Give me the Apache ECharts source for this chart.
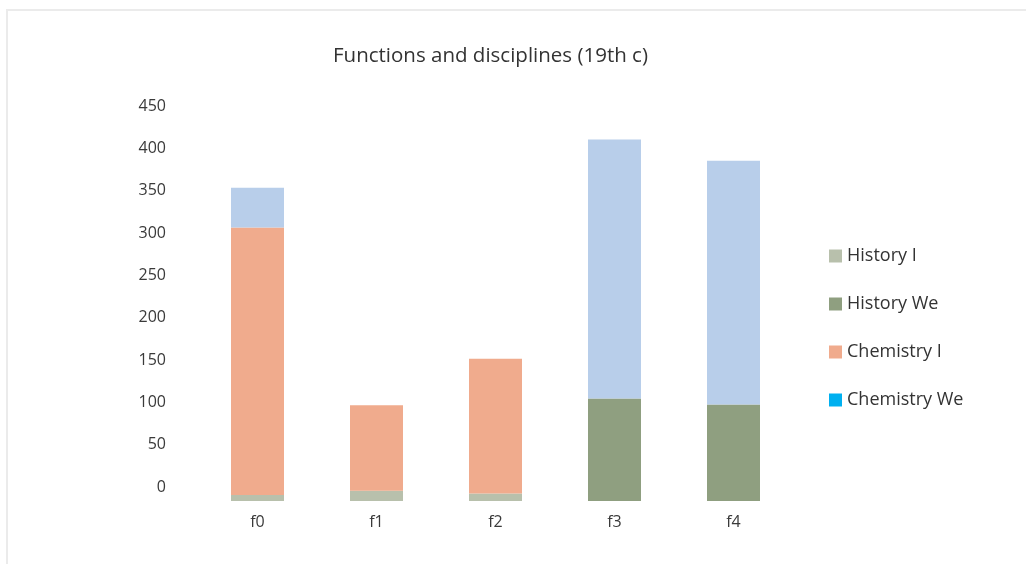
<!DOCTYPE html>
<html>
<head>
<meta charset="utf-8">
<script src="https://cdn.jsdelivr.net/npm/echarts@6/dist/echarts.min.js"></script>
<style>
html,body{margin:0;padding:0;background:#fff;overflow:hidden;}
#frame{position:absolute;left:6px;top:9px;width:1040px;height:600px;border:2px solid #ebebeb;box-sizing:border-box;}
#chart{position:absolute;left:0;top:0;width:1026px;height:564px;}
</style>
</head>
<body>
<div id="frame"></div>
<div id="chart"></div>
<script>
var categories = ['f0', 'f1', 'f2', 'f3', 'f4'];
var seriesNames = ['History I', 'History We', 'Chemistry I', 'Chemistry We'];
var historyI = [7, 12, 9, 0, 0];
var historyWe = [0, 0, 0, 121, 114];
var chemistryI = [316, 101, 159, 0, 0];
var chemistryWe = [47, 0, 0, 306, 288];
var yTicks = [0, 50, 100, 150, 200, 250, 300, 350, 400, 450];

var barColors = ['#b8c0ac', '#8f9f80', '#f0ab8d', '#b8ceea'];
var legendColors = ['#b8c0ac', '#8f9f80', '#f0ab8d', '#00b0f0'];
var values = [historyI, historyWe, chemistryI, chemistryWe];
var font = 'Open Sans';

var chart = echarts.init(document.getElementById('chart'));
chart.setOption({
  animation: false,
  title: {
    text: 'Functions and disciplines (19th c)',
    left: 328, top: 41,
    textStyle: {fontFamily: font, fontSize: 20.5, fontWeight: 'normal', color: '#333'}
  },
  legend: {
    orient: 'vertical',
    left: 824, top: 242,
    itemWidth: 13, itemHeight: 13,
    itemGap: 30,
    icon: 'rect',
    textStyle: {fontFamily: font, fontSize: 18, color: '#333'},
    data: seriesNames.map(function (n, i) { return {name: n, itemStyle: {color: legendColors[i]}}; })
  },
  grid: {left: 198, right: 233, top: 120, bottom: 63, containLabel: false},
  xAxis: {
    type: 'category',
    data: categories,
    axisLine: {show: false},
    axisTick: {show: false},
    axisLabel: {fontFamily: font, fontSize: 16, color: '#3a3a3a', margin: 13}
  },
  yAxis: {
    type: 'value',
    min: 0, max: 450, interval: 50,
    splitLine: {show: false},
    axisLine: {show: false},
    axisTick: {show: false},
    axisLabel: {
      fontFamily: font, fontSize: 16, color: '#3a3a3a', margin: 32,
      verticalAlign: 'bottom', padding: [0, 0, 6, 0],
      formatter: function (v) { return yTicks.indexOf(v) >= 0 ? String(v) : ''; }
    }
  },
  series: seriesNames.map(function (n, i) {
    return {
      name: n, type: 'bar', stack: 'total', barWidth: 53,
      itemStyle: {color: barColors[i]},
      data: values[i]
    };
  })
});
</script>
</body>
</html>
